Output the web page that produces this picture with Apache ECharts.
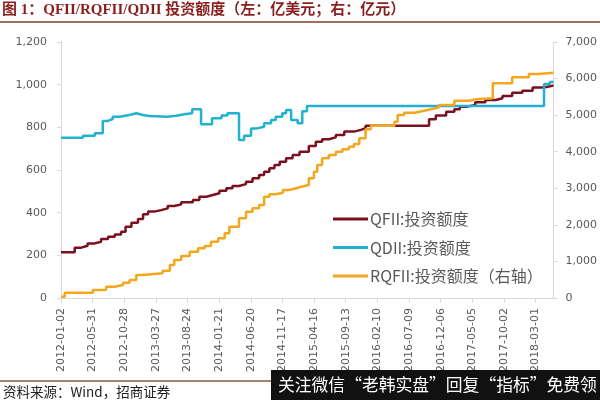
<!DOCTYPE html>
<html>
<head>
<meta charset="utf-8">
<script src="https://cdn.jsdelivr.net/npm/echarts@6/dist/echarts.min.js"></script>
<style>html,body{margin:0;padding:0;background:#fff}#c{width:600px;height:400px}</style>
</head>
<body>
<div id="c"></div>
<script>
// ---- data ----
const seriesNames = ['QFII:投资额度', 'QDII:投资额度', 'RQFII:投资额度（右轴）'];
const axisStart = '2012-01-02';
const axisEnd = '2018-05-25';

const qfiiDates = ['2012-01-02','2012-03-07','2012-04-07','2012-05-07','2012-06-10','2012-07-10','2012-08-12','2012-09-13','2012-10-13','2012-11-03','2012-12-01','2013-01-01','2013-01-25','2013-02-18','2013-03-19','2013-04-21','2013-05-22','2013-06-22','2013-07-25','2013-09-18','2013-10-19','2013-11-21','2013-12-22','2014-01-22','2014-02-24','2014-03-25','2014-04-25','2014-05-28','2014-06-28','2014-07-29','2014-08-22','2014-09-16','2014-10-10','2014-11-04','2014-12-04','2015-01-04','2015-02-06','2015-03-22','2015-04-24','2015-05-24','2015-06-25','2015-07-28','2015-09-06','2015-10-22','2015-11-24','2015-12-16','2016-10-12','2016-11-13','2017-01-01','2017-02-09','2017-03-07','2017-04-10','2017-05-19','2017-07-06','2017-08-25','2017-09-25','2017-11-10','2017-12-28','2018-02-15','2018-04-10','2018-05-25'];
const qfiiValues = [214,236,245,256,264,277,287,298,311,334,353,370,392,405,412,420,431,439,449,459,475,483,491,503,514,525,534,545,561,577,592,608,623,639,655,670,686,712,733,744,753,764,780,788,796,808,838,855,873,885,897,905,918,928,936,947,962,972,987,996,996];

const qdiiDates = ['2012-01-02','2012-04-15','2012-06-10','2012-07-18','2012-08-12','2012-09-03','2012-10-06','2012-11-21','2012-12-24','2013-01-24','2013-02-24','2013-05-18','2013-07-01','2013-08-09','2013-09-15','2013-10-27','2013-12-18','2014-02-01','2014-03-01','2014-04-25','2014-05-19','2014-06-21','2014-07-19','2014-08-22','2014-09-24','2014-10-16','2014-11-16','2014-12-04','2014-12-28','2015-01-28','2015-02-19','2015-03-13','2018-04-10','2018-05-07','2018-05-25'];
const qdiiValues = [751,761,772,830,839,850,858,866,858,853,850,854,861,866,885,814,842,855,866,741,761,795,803,819,834,850,866,881,834,819,875,900,1003,1013,1013];

const rqfiiDates = ['2012-01-02','2012-01-20','2012-06-01','2012-08-03','2012-09-13','2012-10-22','2012-11-22','2012-12-24','2013-01-24','2013-04-28','2013-06-01','2013-06-22','2013-07-25','2013-09-03','2013-10-13','2013-11-13','2013-12-13','2014-01-16','2014-02-16','2014-03-10','2014-04-25','2014-05-28','2014-06-28','2014-07-29','2014-08-22','2014-09-16','2014-10-16','2014-11-19','2014-12-19','2015-01-22','2015-02-15','2015-03-22','2015-04-15','2015-05-01','2015-05-24','2015-06-25','2015-07-28','2015-08-28','2015-09-28','2015-10-22','2015-11-16','2015-12-16','2016-01-10','2016-05-01','2016-05-16','2016-06-16','2016-08-04','2016-09-19','2016-10-21','2016-11-28','2017-02-09','2017-04-19','2017-05-22','2017-08-10','2017-11-10','2018-01-28','2018-03-16','2018-05-25'];
const rqfiiValues = [36,146,219,310,356,419,492,629,675,747,902,1039,1148,1266,1359,1422,1540,1632,1769,1950,2179,2360,2452,2543,2770,2836,2879,2953,3000,3043,3090,3272,3454,3637,3819,3910,4001,4065,4138,4211,4366,4612,4710,4821,5004,5068,5122,5160,5214,5277,5395,5432,5460,5871,6034,6125,6161,6161];

const leftTicks = {min: 0, max: 1200, interval: 200};
const rightTicks = {min: 0, max: 7000, interval: 1000};
const xTickDays = 150;

// ---- helpers ----
const DAY = 86400000;
function parse(s){const p=s.split('-').map(Number);return Date.UTC(p[0],p[1]-1,p[2]);}
const t0 = parse(axisStart);
function off(s){return Math.round((parse(s)-t0)/DAY);}
function fmtDate(d){const dt=new Date(t0+Math.round(d)*DAY);const p=n=>String(n).padStart(2,'0');return dt.getUTCFullYear()+'-'+p(dt.getUTCMonth()+1)+'-'+p(dt.getUTCDate());}
function thousands(v){return String(v).replace(/\B(?=(\d{3})+(?!\d))/g, ',');}
function pairs(ds, vs){return ds.map((d,i)=>[off(d), vs[i]]);}

const axisGray = '#D9D9D9';
const labelGray = '#595959';
const numFont = 'DejaVu Sans';
const colors = ['#7A1020', '#22B2CF', '#F2A71E'];

const chart = echarts.init(document.getElementById('c'), null, {renderer:'canvas'});
chart.setOption({
  animation: false,
  backgroundColor: '#fff',
  grid: {left: 61, right: 46, top: 42, bottom: 102, containLabel: false},
  xAxis: {
    type: 'value', min: 0, max: off(axisEnd), interval: xTickDays,
    splitLine: {show: false},
    axisLine: {show: true, lineStyle: {color: axisGray}},
    axisTick: {show: true, length: 5, lineStyle: {color: axisGray}},
    axisLabel: {rotate: 90, margin: 10, color: labelGray, fontSize: 11, fontFamily: numFont,
      showMaxLabel: false, formatter: v => fmtDate(v)}
  },
  yAxis: [
    {type: 'value', min: leftTicks.min, max: leftTicks.max, interval: leftTicks.interval,
      splitLine: {show: false},
      axisLine: {show: true, lineStyle: {color: axisGray}},
      axisTick: {show: true, length: 4, lineStyle: {color: axisGray}},
      axisLabel: {margin: 14, color: labelGray, fontSize: 11, fontFamily: numFont, formatter: v => thousands(v)}},
    {type: 'value', min: rightTicks.min, max: rightTicks.max, interval: rightTicks.interval, position: 'right',
      splitLine: {show: false},
      axisLine: {show: true, lineStyle: {color: axisGray}},
      axisTick: {show: true, length: 4, lineStyle: {color: axisGray}},
      axisLabel: {margin: 12, color: labelGray, fontSize: 11, fontFamily: numFont, formatter: v => thousands(v)}}
  ],
  legend: {
    orient: 'vertical', left: 328, top: 206, icon: 'rect', itemWidth: 35, itemHeight: 3, itemGap: 12.5,
    textStyle: {fontSize: 16, lineHeight: 16, color: labelGray, fontFamily: 'Noto Sans CJK SC', padding: [0,0,0,-3]},
    data: seriesNames
  },
  series: [
    {name: seriesNames[0], type: 'line', step: 'end', yAxisIndex: 0, symbol: 'none',
      lineStyle: {width: 2.5, color: colors[0]}, itemStyle: {color: colors[0]},
      data: pairs(qfiiDates, qfiiValues)},
    {name: seriesNames[1], type: 'line', step: 'end', yAxisIndex: 0, symbol: 'none',
      lineStyle: {width: 2.5, color: colors[1]}, itemStyle: {color: colors[1]},
      data: pairs(qdiiDates, qdiiValues)},
    {name: seriesNames[2], type: 'line', step: 'end', yAxisIndex: 1, symbol: 'none',
      lineStyle: {width: 2.5, color: colors[2]}, itemStyle: {color: colors[2]},
      data: pairs(rqfiiDates, rqfiiValues)}
  ],
  graphic: [
    {type: 'text', left: 2, top: 3, style: {text: '图 1：QFII/RQFII/QDII 投资额度（左：亿美元；右：亿元）',
      fill: '#8A1E1E', font: 'bold 15px "Liberation Serif", "Noto Sans CJK SC"'}},
    {type: 'line', shape: {x1: 0, y1: 22, x2: 600, y2: 22}, style: {stroke: '#8A3A30', lineWidth: 1.5}},
    {type: 'line', shape: {x1: 0, y1: 381, x2: 600, y2: 381}, style: {stroke: '#8A5A4A', lineWidth: 1.5}},
    {type: 'text', left: 3, top: 385, style: {text: '资料来源：Wind，招商证券', fill: '#222',
      font: '13.5px "Noto Sans CJK SC"'}},
    {type: 'rect', shape: {x: 271, y: 370, width: 329, height: 30}, style: {fill: '#111'}, z: 100},
    {type: 'text', left: 278, top: 376, z: 101, style: {text: '关注微信“老韩实盘”回复“指标”免费领', fill: '#fff',
      font: '16.8px "Noto Sans CJK SC"'}}
  ]
});
</script>
</body>
</html>
